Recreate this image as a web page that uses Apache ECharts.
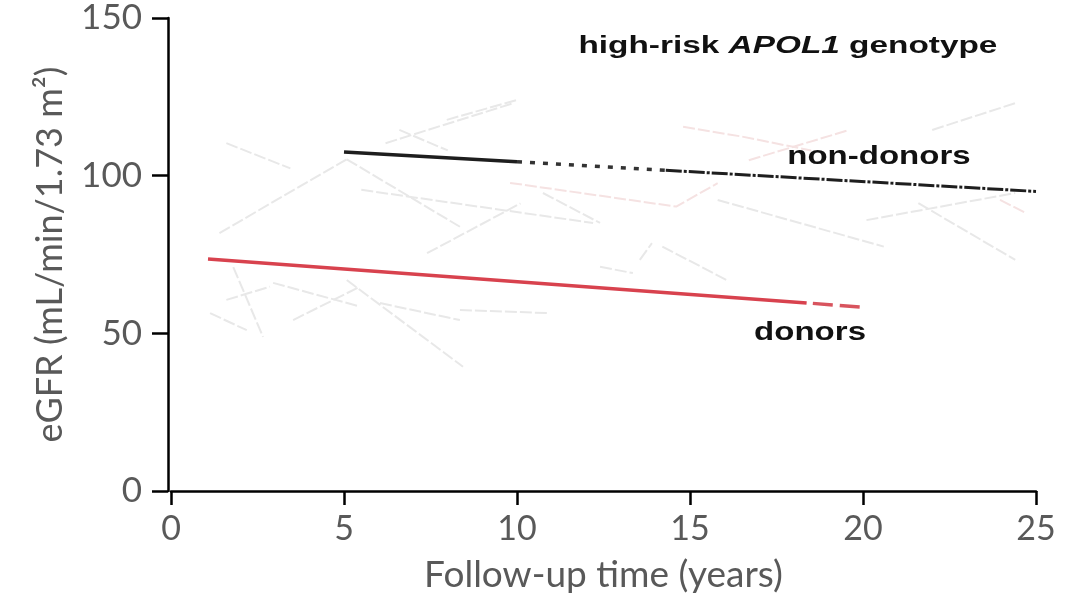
<!DOCTYPE html>
<html>
<head>
<meta charset="utf-8">
<script src="https://cdn.jsdelivr.net/npm/echarts@6/dist/echarts.min.js"></script>
<style>
html,body{margin:0;padding:0;background:#fff;}
#chart{width:1073px;height:605px;}
</style>
</head>
<body>
<div id="chart"></div>
<script>
// ---- data ----
const xTicks = [0, 5, 10, 15, 20, 25];
const yTicks = [0, 50, 100, 150];

// non-donors fitted trajectory (years, eGFR), split by line style
const nonDonorSolid  = [[5, 107.5], [10, 104.4]];
const nonDonorDotted = [[10, 104.4], [14.3, 101.7]];
const nonDonorDashDot = [[14.3, 101.7], [25, 95.0]];

// donors fitted trajectory
const donorSolid  = [[1.07, 73.6], [18.37, 59.6]];
const donorDashed = [[18.55, 59.5], [19.95, 58.3]];

// faint individual trajectories (grey)
const greyTraces = [
  [[1.6, 110.3], [3.45, 102.3]],
  [[1.4, 81.8], [5.08, 105.2]],
  [[5.08, 105.2], [8.35, 83.8]],
  [[6.2, 110.3], [9.9, 123]],
  [[6.6, 114.5], [8.0, 108]],
  [[5.5, 95.5], [12.2, 85]],
  [[7.4, 75.4], [10.1, 91.2]],
  [[5.08, 66.9], [8.44, 39.4]],
  [[1.13, 56.4], [2.19, 51]],
  [[1.8, 71], [2.66, 48.9]],
  [[1.6, 60.6], [2.86, 64.8]],
  [[2.95, 66], [5.46, 58.5]],
  [[3.53, 54.2], [5.46, 64.8]],
  [[6.04, 59.6], [8.35, 54.2]],
  [[8.35, 57.4], [10.95, 56.4]],
  [[10.75, 94.5], [12.4, 85]],
  [[13.55, 73.3], [13.9, 78.6]],
  [[14.2, 77.5], [16.06, 66.9]],
  [[7.97, 117.7], [9.99, 124]],
  [[22.0, 114.5], [24.4, 123]],
  [[21.6, 91.3], [24.4, 73.3]],
  [[20.1, 85.9], [24.4, 94.5]],
  [[15.8, 92.3], [20.6, 77.5]],
  [[12.4, 71.1], [13.35, 69.1]]
];
// faint individual trajectories (pink)
const pinkTraces = [
  [[9.8, 97.7], [14.6, 90.2], [15.8, 97.6]],
  [[14.8, 115.5], [16.5, 112.4], [18.5, 108]],
  [[16.7, 104.9], [19.6, 114.5]],
  [[23.96, 92.3], [24.7, 88.2]]
];

const titleText = 'high-risk APOL1 genotype';
const labelNonDonors = 'non-donors';
const labelDonors = 'donors';

// ---- chart ----
const chart = echarts.init(document.getElementById('chart'), null, {renderer: 'canvas'});
const axisFont = 'Lato';
const greyTxt = '#595959';

const series = [];
greyTraces.forEach(t => series.push({
  type: 'line', data: t, showSymbol: false, silent: true, z: 1,
  lineStyle: {color: '#e8e8e8', width: 2, type: [12, 3]}
}));
pinkTraces.forEach(t => series.push({
  type: 'line', data: t, showSymbol: false, silent: true, z: 1,
  lineStyle: {color: '#f5e2e2', width: 2, type: [12, 3]}
}));
series.push(
  {type: 'line', data: nonDonorSolid, showSymbol: false, z: 5,
   lineStyle: {color: '#1e1e1e', width: 3.5, cap: 'butt'}},
  {type: 'line', data: nonDonorDotted, showSymbol: false, z: 5,
   lineStyle: {color: '#333', width: 3.5, type: [5, 8], cap: 'butt'}},
  {type: 'line', data: nonDonorDashDot, showSymbol: false, z: 5,
   lineStyle: {color: '#1e1e1e', width: 3, type: [16, 2, 3, 2], cap: 'butt'}},
  {type: 'line', data: donorSolid, showSymbol: false, z: 5,
   lineStyle: {color: '#d8424e', width: 3.5, cap: 'butt'}},
  {type: 'line', data: donorDashed, showSymbol: false, z: 5,
   lineStyle: {color: '#d8545e', width: 3.5, type: [20, 7], cap: 'butt'}}
);

chart.setOption({
  animation: false,
  backgroundColor: '#ffffff',
  grid: {left: 171, right: 37, top: 18, bottom: 114, containLabel: false},
  xAxis: {
    type: 'value', min: 0, max: 25, interval: 5,
    name: 'Follow-up time (years)', nameLocation: 'middle', nameGap: 66,
    nameTextStyle: {fontFamily: axisFont, fontSize: 37, color: greyTxt},
    axisLine: {onZero: false, lineStyle: {color: '#000', width: 2.5}},
    axisTick: {show: true, length: 14, lineStyle: {color: '#000', width: 2.5}},
    axisLabel: {fontFamily: axisFont, fontSize: 34, color: greyTxt, margin: 21,
      formatter: v => xTicks.includes(v) ? String(v) : ''},
    splitLine: {show: false}
  },
  yAxis: {
    type: 'value', min: 0, max: 150, interval: 50, offset: 3,
    name: 'eGFR (mL/min/1.73 m²)', nameLocation: 'middle', nameGap: 100, nameRotate: 90,
    nameTextStyle: {fontFamily: axisFont, fontSize: 36, color: greyTxt},
    axisLine: {show: true, onZero: false, lineStyle: {color: '#000', width: 2.5}},
    axisTick: {show: true, length: 16, lineStyle: {color: '#000', width: 2.5}},
    axisLabel: {fontFamily: axisFont, fontSize: 35, color: greyTxt, margin: 26,
      formatter: v => yTicks.includes(v) ? String(v) : ''},
    splitLine: {show: false}
  },
  series: series
});

// annotations placed at data coordinates
function px(pt) { return chart.convertToPixel({gridIndex: 0}, pt); }
const pTitle = px([17.83, 140.8]);
const pNon = px([20.46, 105.9]);
const pDon = px([18.47, 50.1]);
const annFont = '"Liberation Sans", Arial, sans-serif';
chart.setOption({
  graphic: [
    {type: 'text', x: pTitle[0], y: pTitle[1], scaleX: 1.42, scaleY: 1, z: 10,
     style: {
       text: '{b|high-risk }{i|APOL1}{b| genotype}',
       textAlign: 'center', textVerticalAlign: 'middle',
       rich: {
         b: {fontFamily: annFont, fontWeight: 'bold', fontSize: 23.5, fill: '#111'},
         i: {fontFamily: annFont, fontWeight: 'bold', fontStyle: 'italic', fontSize: 23.5, fill: '#111'}
       }
     }},
    {type: 'text', x: pNon[0], y: pNon[1], scaleX: 1.27, scaleY: 1, z: 10,
     style: {text: labelNonDonors, textAlign: 'center', textVerticalAlign: 'middle',
       font: 'bold 26px ' + annFont, fill: '#111'}},
    {type: 'text', x: pDon[0], y: pDon[1], scaleX: 1.27, scaleY: 1, z: 10,
     style: {text: labelDonors, textAlign: 'center', textVerticalAlign: 'middle',
       font: 'bold 26px ' + annFont, fill: '#111'}}
  ]
});
</script>
</body>
</html>
